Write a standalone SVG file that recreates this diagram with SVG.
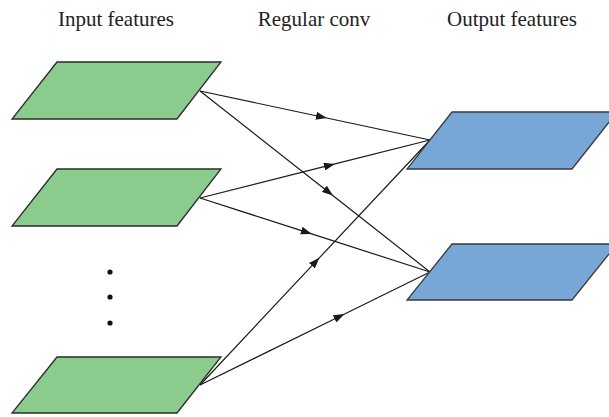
<svg xmlns="http://www.w3.org/2000/svg" width="609" height="417" viewBox="0 0 609 417">
<style>
.in{fill:#8bcb8e;stroke:#2b2b2b;stroke-width:1.3}
.out{fill:#78a7d7;stroke:#3a3a3a;stroke-width:1.3}
.t{font-family:"Liberation Serif",serif;font-size:21px;fill:#222;text-anchor:middle}
.c{fill:none;stroke:#1a1a1a;stroke-width:1.2;marker-mid:url(#ah)}
</style>
<defs>
<marker id="ah" viewBox="0 0 11 8" refX="6" refY="4" markerWidth="11" markerHeight="8" markerUnits="userSpaceOnUse" orient="auto">
<path d="M0,0 L11,4 L0,8 Z" fill="#1a1a1a"/>
</marker>
</defs>
<text class="t" x="116" y="26">Input features</text>
<text class="t" x="314" y="26">Regular conv</text>
<text class="t" x="512" y="26">Output features</text>
<g id="connectors">
<path class="c" d="M200,91 L322,117 L430,140"/>
<path class="c" d="M200,91 L329,192.5 L430,272"/>
<path class="c" d="M200,198 L330,165.2 L430,140"/>
<path class="c" d="M200,198 L307,232.4 L430,272"/>
<path class="c" d="M200,385 L316,261.4 L430,140"/>
<path class="c" d="M200,385 L340,316.2 L430,272"/>
</g>
<g id="in1"><polygon class="in" points="57,62 221,62 177,119 12,119"/></g>
<g id="in2"><polygon class="in" points="57,169 221,169 177,226 12,226"/></g>
<g id="dots">
<circle cx="110" cy="272" r="2.6" fill="#111"/>
<circle cx="110" cy="297" r="2.6" fill="#111"/>
<circle cx="110" cy="323" r="2.6" fill="#111"/>
</g>
<g id="in3"><polygon class="in" points="57,357 221,357 177,413 12,413"/></g>
<g id="out1"><polygon class="out" points="452,112 617,112 572,169 407,169"/></g>
<g id="out2"><polygon class="out" points="452,244 617,244 572,300 407,300"/></g>
</svg>
